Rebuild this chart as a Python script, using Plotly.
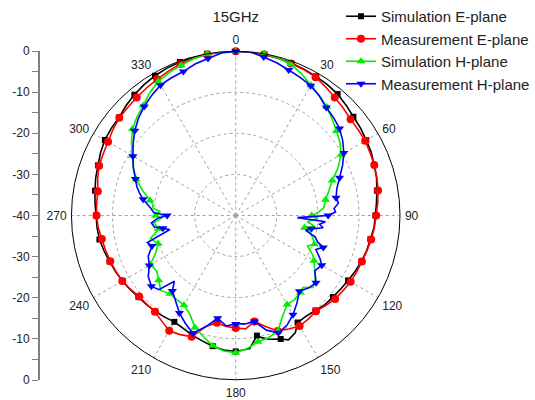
import plotly.graph_objects as go

# ---------------- data (dB vs angle in degrees) ----------------
theta_sim_e = [0, 5, 10, 15, 20, 25, 30, 35, 40, 45, 50, 55, 60, 65, 70, 75, 80, 85, 90, 95,
               100, 105, 110, 115, 120, 125, 130, 135, 140, 145, 150, 153, 157, 160, 165, 168,
               170, 174, 180, 185, 190, 195, 200, 205, 210, 215, 220, 225, 230, 235, 240, 245,
               250, 255, 260, 265, 270, 275, 280, 285, 290, 295, 300, 305, 310, 315, 320, 325,
               330, 335, 340, 345, 350, 355, 360]
db_sim_e = [0, 0, -0.1, -0.3, -0.5, -0.7, -0.9, -1.1, -1.4, -2.0, -2.6, -2.9, -3.3, -3.6, -4.1,
            -4.5, -5.1, -5.6, -6.0, -6.2, -6.7, -7.0, -7.4, -7.9, -8.4, -8.8, -9.1, -9.3, -9.8,
            -10.1, -9.9, -8.0, -7.1, -8.0, -8.8, -9.6, -10.3, -7.4, -6.9, -7.1, -7.7, -8.4, -9.0,
            -9.7, -10.1, -9.8, -9.5, -9.3, -9.1, -8.6, -8.1, -7.7, -7.3, -6.8, -6.3, -6.1, -6.0,
            -5.6, -5.2, -4.7, -4.3, -3.7, -3.2, -3.0, -2.9, -2.2, -1.6, -1.1, -0.7, -0.4, -0.2,
            -0.1, 0, 0, 0]

theta_meas_e = [0, 5, 10, 15, 20, 25, 30, 35, 40, 45, 50, 55, 60, 65, 70, 75, 80, 85, 90, 95,
                100, 105, 110, 115, 120, 125, 130, 135, 140, 145, 150, 155, 160, 165, 170, 175,
                180, 185, 190, 195, 200, 205, 210, 215, 220, 225, 230, 235, 240, 245, 250, 255,
                260, 265, 270, 275, 280, 285, 290, 295, 300, 305, 310, 315, 320, 325, 330, 335,
                340, 345, 350, 355, 360]
db_meas_e = [0, -0.1, -0.2, -0.4, -0.6, -0.8, -1.1, -1.8, -2.5, -3.0, -3.5, -3.6, -3.6, -3.9,
             -4.1, -4.4, -4.8, -5.3, -5.8, -6.1, -6.5, -6.9, -7.3, -7.5, -7.7, -8.1, -8.4, -9.0,
             -9.6, -9.2, -8.9, -9.5, -10.1, -12.0, -13.8, -12.3, -12.6, -12.9, -13.5, -12.0,
             -8.6, -8.0, -7.6, -8.6, -9.4, -9.4, -9.3, -8.7, -8.1, -7.8, -7.5, -7.2, -6.9, -6.4,
             -6.1, -6.0, -5.9, -5.2, -4.6, -4.4, -4.1, -3.5, -3.0, -2.8, -2.5, -2.1, -1.7, -1.2,
             -0.7, -0.4, -0.2, -0.1, 0]

theta_sim_h = [0, 5, 10, 15, 20, 25, 30, 35, 40, 45, 50, 55, 60, 65, 70, 75, 80, 85, 88, 90,
               92, 95, 98, 100, 103, 106, 110, 113, 117, 120, 125, 128, 133, 137, 140, 145, 150,
               155, 160, 165, 170, 175, 180, 185, 190, 195, 200, 205, 210, 215, 220, 225, 230,
               235, 240, 245, 250, 255, 260, 265, 268, 270, 273, 275, 278, 280, 285, 290, 295,
               300, 305, 310, 315, 320, 325, 330, 335, 340, 345, 350, 355, 360]
db_sim_h = [0, 0, 0, -0.3, -0.8, -2.0, -3.4, -4.4, -5.5, -6.8, -8.0, -9.0, -10.4, -12.5, -15.0,
            -16.5, -17.8, -18.5, -20.0, -21.5, -20.0, -22.5, -20.5, -23.0, -21.5, -20.5, -19.6,
            -21.0, -19.0, -18.0, -16.5, -15.3, -14.3, -16.0, -15.5, -15.0, -15.0, -13.0, -10.0,
            -9.2, -8.8, -7.5, -6.6, -6.9, -7.8, -9.5, -11.0, -13.5, -14.8, -15.0, -15.1, -14.2,
            -15.5, -16.5, -16.0, -18.5, -19.9, -18.5, -21.0, -20.0, -22.0, -20.5, -21.5, -19.8,
            -19.5, -18.8, -16.5, -14.2, -12.5, -10.9, -9.0, -7.2, -6.0, -5.0, -3.5, -2.3, -1.6,
            -1.1, -0.5, 0, 0, 0]

theta_meas_h = [0, 5, 10, 15, 20, 25, 30, 35, 40, 45, 50, 55, 60, 65, 70, 75, 80, 83, 86, 88,
                90, 92, 94, 96, 98, 100, 102, 105, 108, 110, 113, 117, 120, 125, 130, 135, 140,
                145, 150, 155, 160, 165, 170, 175, 180, 185, 190, 195, 200, 205, 210, 215, 220,
                223, 226, 230, 235, 240, 245, 250, 253, 258, 260, 262, 265, 268, 270, 272, 275,
                278, 280, 283, 286, 290, 295, 300, 305, 310, 315, 320, 325, 330, 335, 340, 345,
                350, 355, 360]
db_meas_h = [0, 0, -0.8, -1.5, -2.3, -2.9, -3.5, -4.5, -5.7, -6.3, -7.0, -8.2, -9.6, -11.3,
             -13.1, -14.5, -15.2, -14.8, -16.0, -15.7, -17.5, -25.0, -18.1, -19.5, -18.5, -21.3,
             -22.6, -20.0, -19.0, -17.3, -18.8, -17.0, -15.8, -16.5, -14.5, -15.0, -15.9, -14.0,
             -12.1, -10.5, -9.6, -11.1, -13.8, -13.5, -13.6, -13.0, -14.6, -12.0, -9.5, -11.0,
             -12.6, -14.5, -16.0, -18.1, -14.0, -13.2, -14.0, -15.7, -16.5, -18.3, -17.5, -23.6,
             -22.0, -20.0, -19.4, -21.0, -23.3, -20.0, -19.2, -18.0, -17.1, -16.0, -15.0, -14.0,
             -12.5, -11.1, -9.5, -7.9, -6.5, -5.35, -4.3, -3.35, -3.0, -2.7, -1.8, -1.2, -0.3, 0]

series_names = ["Simulation E-plane", "Measurement E-plane",
                "Simulation H-plane", "Measurement H-plane"]
angular_ticks = [0, 30, 60, 90, 120, 150, 180, 210, 240, 270, 300, 330]
radial_grid = [-30, -20, -10]
left_tick_vals = [-40, -30, -20, -10, 0, 10, 20, 30, 40]
left_tick_text = ["0", "-10", "-20", "-30", "-40", "-30", "-20", "-10", "0"]

# ---------------- styles ----------------
colors = ["#000000", "#ff0000", "#00ee00", "#0000ff"]
symbols = ["square", "circle", "triangle-up", "triangle-down"]
msizes = [6, 8, 8, 8]
data = [(theta_sim_e, db_sim_e), (theta_meas_e, db_meas_e),
        (theta_sim_h, db_sim_h), (theta_meas_h, db_meas_h)]

FONT = "Arial, Liberation Sans, sans-serif"
fig = go.Figure()

# invisible trace to host the left linear axis
fig.add_trace(go.Scatter(x=[0], y=[0], mode="markers", marker=dict(opacity=0),
                         showlegend=False, hoverinfo="skip", xaxis="x", yaxis="y"))

for name, (th, db), c, s, ms in zip(series_names, data, colors, symbols, msizes):
    fig.add_trace(go.Scatterpolar(r=db, theta=th, mode="lines",
                                  line=dict(color=c, width=1.6),
                                  showlegend=False, hoverinfo="skip"))
    mt = [t for t in th[:-1] if t % 10 == 0]
    mr = [r for t, r in zip(th[:-1], db[:-1]) if t % 10 == 0]
    fig.add_trace(go.Scatterpolar(r=mr, theta=mt, mode="markers",
                                  marker=dict(color=c, symbol=s, size=ms),
                                  showlegend=False, hoverinfo="skip"))

for name, c, s, ms in zip(series_names, colors, symbols, msizes):
    fig.add_trace(go.Scatterpolar(r=[None], theta=[None], mode="lines+markers", name=name,
                                  line=dict(color=c, width=1.6),
                                  marker=dict(color=c, symbol=s, size=ms)))

L, R, T, B = 40, 134.5, 51, 20
W, H = 535, 400
pw = W - L - R
ph = H - T - B
cx = 236

fig.update_layout(
    width=W, height=H,
    margin=dict(l=L, r=R, t=T, b=B, pad=0, autoexpand=False),
    paper_bgcolor="white", plot_bgcolor="white",
    font=dict(family=FONT, color="#222222", size=12),
    title=dict(text="15GHz", x=(cx - L) / pw, xref="paper", xanchor="center",
               y=1 - 17 / H, yref="container", yanchor="middle",
               font=dict(size=15, color="#222222", family=FONT)),
    legend=dict(x=341 / W, xref="container", xanchor="left",
                y=1.0, yref="container", yanchor="top",
                font=dict(size=15, family=FONT, color="#222222"),
                bgcolor="rgba(0,0,0,0)", tracegroupgap=0),
    xaxis=dict(domain=[0, 0.02], visible=False, range=[0, 1], fixedrange=True),
    yaxis=dict(domain=[0, 1], range=[-40, 40], anchor="x", side="left",
               tickvals=left_tick_vals, ticktext=left_tick_text,
               ticks="outside", ticklen=6, tickcolor="#808080", tickwidth=1,
               showline=True, linecolor="#808080", linewidth=2,
               showgrid=False, zeroline=False, fixedrange=True,
               tickfont=dict(size=12, family=FONT, color="#222222"),
               minor=dict(dtick=5, ticks="outside", ticklen=6, tickcolor="#808080",
                          showgrid=False)),
    polar=dict(
        domain=dict(x=[(71.5 - L) / pw, 1], y=[0, 1]),
        bgcolor="white",
        angularaxis=dict(rotation=90, direction="clockwise",
                         tickvals=angular_ticks, ticktext=[str(a) for a in angular_ticks],
                         tickfont=dict(size=12, family=FONT, color="#222222"),
                         showgrid=True, gridcolor="#a0a0a0", griddash="dot", gridwidth=1,
                         showline=True, linecolor="#000000", linewidth=1,
                         ticks="outside", ticklen=2, tickcolor="rgba(0,0,0,0)"),
        radialaxis=dict(range=[-40, 0], tickvals=radial_grid, showticklabels=False,
                        ticks="", showline=False, showgrid=True,
                        gridcolor="#a0a0a0", griddash="dot", gridwidth=1),
    ),
)

fig.write_html("out.html")
